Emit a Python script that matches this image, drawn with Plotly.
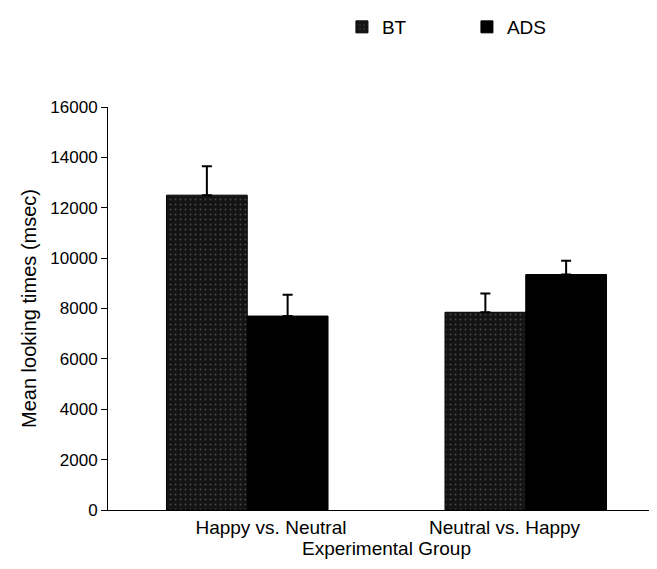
import plotly.graph_objects as go

categories = ["Happy vs. Neutral", "Neutral vs. Happy"]
bt_values = [12500, 7850]
bt_errors = [1150, 750]
ads_values = [7700, 9350]
ads_errors = [850, 550]
y_ticks = [0, 2000, 4000, 6000, 8000, 10000, 12000, 14000, 16000]
y_ticktext = [str(v) for v in y_ticks]

group_pos = list(range(len(categories)))
label_pos = [0.085, 0.924]  # label placement as in the original (slightly off-centre)

fig = go.Figure()
fig.add_trace(go.Bar(
    name="BT", x=group_pos, y=bt_values,
    marker=dict(color="#141414", line=dict(color="#000", width=1),
                pattern=dict(shape=".", fgcolor="#777777", size=5, solidity=0.12)),
    error_y=dict(type="data", array=bt_errors, arrayminus=[0, 0], symmetric=False,
                 color="#000", thickness=2, width=5),
))
fig.add_trace(go.Bar(
    name="ADS", x=group_pos, y=ads_values,
    marker=dict(color="#000000", line=dict(color="#000", width=1)),
    error_y=dict(type="data", array=ads_errors, arrayminus=[0, 0], symmetric=False,
                 color="#000", thickness=2, width=5),
))

fig.update_layout(
    width=657, height=561,
    margin=dict(l=100, r=0, t=99, b=59),
    paper_bgcolor="white", plot_bgcolor="white",
    font=dict(family="Liberation Sans, Arial, sans-serif", color="#000", size=16),
    barmode="group", bargap=0.42, bargroupgap=0,
    showlegend=True,
    legend=dict(orientation="h", x=0.42, xanchor="left", yref="container", y=1,
                yanchor="top", font=dict(size=19), itemwidth=30, entrywidth=80,
                entrywidthmode="pixels", traceorder="normal"),
    xaxis=dict(range=[-0.5, 1.5], tickvals=label_pos, ticktext=categories,
               showline=True, linecolor="#000", linewidth=1, ticks="",
               showgrid=False, zeroline=False,
               title=dict(text="Experimental Group", font=dict(size=19), standoff=4),
               tickfont=dict(size=19)),
    yaxis=dict(range=[0, 16000], tickvals=y_ticks, ticktext=y_ticktext, showline=True,
               linecolor="#000", linewidth=1, ticks="outside", ticklen=6, tickcolor="#000",
               showgrid=False, zeroline=False,
               title=dict(text="Mean looking times (msec)", font=dict(size=20), standoff=8),
               tickfont=dict(size=17)),
)

fig.write_html("out.html")
